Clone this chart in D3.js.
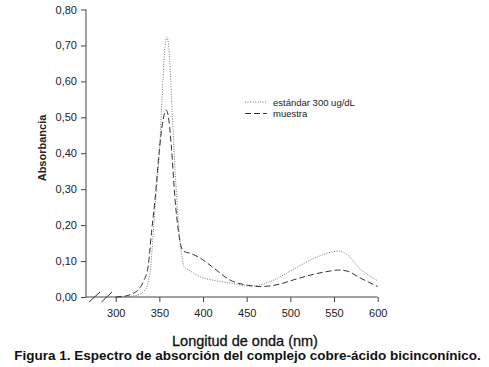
<!DOCTYPE html>
<html><head><meta charset="utf-8">
<script src="https://cdn.jsdelivr.net/npm/d3@7/dist/d3.min.js"></script>
<style>body{margin:0;background:#fff}svg{display:block}text{font-family:"Liberation Sans",Arial,sans-serif;fill:#222}</style>
</head><body><svg id="c" width="489" height="367"></svg>
<script>
const xTicks = [300,350,400,450,500,550,600];
const yTicks = [0,0.1,0.2,0.3,0.4,0.5,0.6,0.7,0.8];
const estandarNm = [300,310,320,328,332,335.5,338,340,343,346,350,353,356,358.5,361,364,367,370,373,376,378,385,390,397,411,431,450,460,470,477,488,500,510,523,540,555,565,580,590,600];
const estandarAbs = [0,0.001,0.003,0.008,0.015,0.028,0.05,0.083,0.18,0.28,0.40,0.55,0.68,0.723,0.69,0.55,0.40,0.27,0.17,0.11,0.085,0.073,0.065,0.056,0.047,0.039,0.031,0.032,0.037,0.043,0.056,0.072,0.086,0.103,0.12,0.128,0.118,0.078,0.06,0.045];
const muestraNm = [300,310,316,320,325,328,332,337,341,345,350,354,358,361,364,368,372,375,378,385,397,411,431,450,465,477,488,500,523,540,555,565,580,600];
const muestraAbs = [0,0.002,0.006,0.01,0.018,0.026,0.045,0.083,0.18,0.27,0.41,0.49,0.52,0.49,0.41,0.27,0.18,0.14,0.127,0.122,0.108,0.083,0.047,0.033,0.029,0.031,0.036,0.045,0.061,0.07,0.075,0.072,0.053,0.029];
const legendLabels = ["estándar 300 ug/dL","muestra"];

const svg = d3.select("#c");
const x = d3.scaleLinear().domain([300,600]).range([115.7,377.7]);
const y = d3.scaleLinear().domain([0,0.8]).range([297,9.5]);
const axisX0 = 86;
const fmt = d => d3.format(".2f")(d).replace(".", ",");

// y axis
const ya = svg.append("g").attr("transform",`translate(${axisX0},0)`)
  .call(d3.axisLeft(y).tickValues(yTicks).tickSize(5).tickPadding(4).tickFormat(fmt));
ya.select(".domain").attr("d",`M0,${y(0)}V${y(0.8)}`);
ya.selectAll("text").style("font-size","11px").style("font-family","Liberation Sans, Arial").attr("fill","#222");
ya.selectAll("line,path").attr("stroke","#444");

// x axis
const xa = svg.append("g").attr("transform",`translate(0,${y(0)})`)
  .call(d3.axisBottom(x).tickValues(xTicks).tickSize(5).tickPadding(7).tickFormat(d3.format("d")));
xa.select(".domain").attr("d",`M${axisX0},0H${x(600)}`);
xa.selectAll("text").style("font-size","11px").style("font-family","Liberation Sans, Arial").attr("fill","#222");
xa.selectAll("line,path").attr("stroke","#444");
// axis break slashes
[[89,100],[101.5,112]].forEach(([a,b])=>{
  svg.append("line").attr("x1",a).attr("y1",y(0)+5).attr("x2",b).attr("y2",y(0)-5)
    .attr("stroke","#333").attr("stroke-width",1);
});

const line = d3.line().x(d=>x(d[0])).y(d=>y(d[1])).curve(d3.curveMonotoneX);
svg.append("path").datum(d3.zip(estandarNm,estandarAbs)).attr("d",line)
  .attr("fill","none").attr("stroke","#777").attr("stroke-width",1).attr("stroke-dasharray","1,1.5");
svg.append("path").datum(d3.zip(muestraNm,muestraAbs)).attr("d",line)
  .attr("fill","none").attr("stroke","#333").attr("stroke-width",1).attr("stroke-dasharray","6,3");

// legend
const lg = svg.append("g");
lg.append("line").attr("x1",245).attr("x2",267).attr("y1",102).attr("y2",102)
  .attr("stroke","#777").attr("stroke-dasharray","1,1.5");
lg.append("line").attr("x1",245).attr("x2",267).attr("y1",113.5).attr("y2",113.5)
  .attr("stroke","#333").attr("stroke-dasharray","6,3");
lg.selectAll("text").data(legendLabels).join("text")
  .attr("x",273).attr("y",(d,i)=>105.5+i*11.5).style("font-size","9.5px").text(d=>d);

// titles
svg.append("text").attr("transform","translate(46,148) rotate(-90)").attr("text-anchor","middle")
  .style("font-size","11px").style("font-weight","bold").text("Absorbancia");
svg.append("text").attr("x",245).attr("y",346).attr("text-anchor","middle")
  .style("font-size","14.5px").style("fill","#111").style("stroke","#111").style("stroke-width","0.3")
  .text("Longitud de onda (nm)");
svg.append("text").attr("x",247.5).attr("y",360).attr("text-anchor","middle")
  .style("font-size","13.5px").style("font-weight","bold").style("fill","#111")
  .text("Figura 1. Espectro de absorción del complejo cobre-ácido bicinconínico.");
</script></body></html>
